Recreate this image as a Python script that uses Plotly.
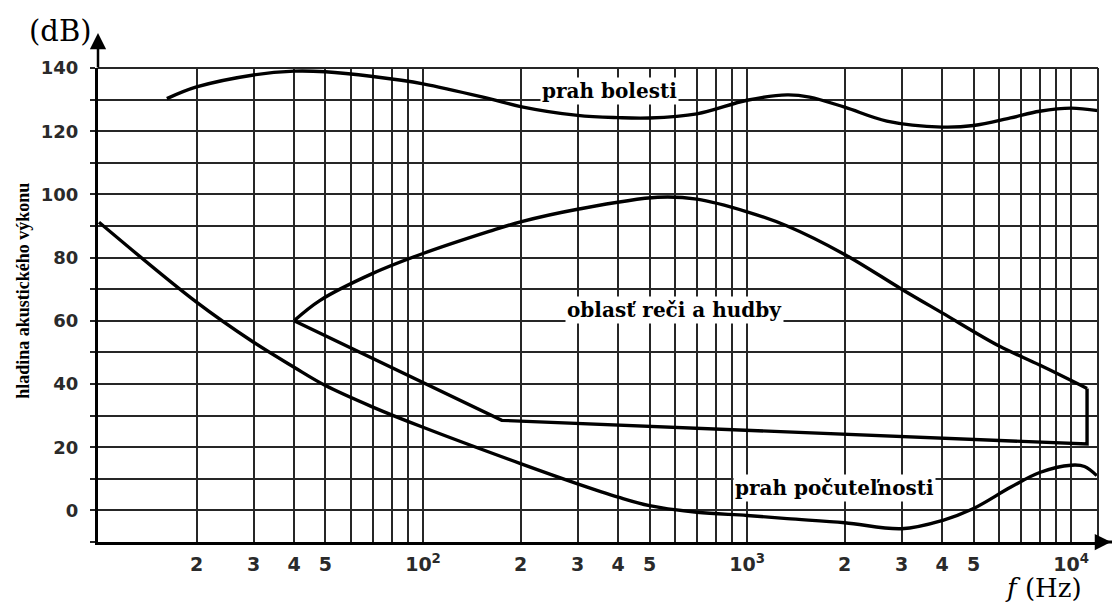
import math
import plotly.graph_objects as go

# ---------------- data ----------------
pain_f = [16.2, 20, 30, 40, 50, 70, 100, 160, 200, 300, 400, 500, 700,
          1000, 1330, 1560, 2000, 2700, 4000, 5000, 6500, 8000, 10000, 12100]
pain_db = [130.3, 134.0, 137.8, 139.0, 138.8, 137.3, 135.0, 130.3, 127.8,
           125.0, 124.3, 124.2, 125.5, 129.8, 131.5, 130.8, 127.6, 123.2,
           121.3, 121.8, 124.2, 126.3, 127.3, 126.5]

speech_top_f = [40, 48, 70, 100, 160, 200, 300, 530, 700, 1000, 1330, 2000,
                3000, 4000, 6000, 8000, 11200]
speech_top_db = [60.0, 66.4, 75.0, 81.3, 88.3, 91.3, 95.3, 99.1, 98.5, 94.5,
                 90.0, 81.0, 70.0, 62.5, 52.0, 46.0, 38.6]

speech_bottom_f = [11200, 11200, 175, 40]
speech_bottom_db = [38.6, 21.0, 28.5, 60.0]

hear_f = [10, 20, 30, 40, 50, 70, 100, 200, 300, 400, 500, 700, 1000, 1330,
          2000, 3000, 4000, 5000, 6500, 8000, 10000, 11000, 12000]
hear_db = [91.2, 65.9, 53.2, 45.3, 39.5, 32.7, 26.3, 14.8, 8.4, 4.2, 1.5,
           -0.6, -1.6, -2.6, -3.9, -5.8, -3.2, 0.6, 7.3, 12.0, 14.3, 13.9, 11.0]

# tick positions / labels
x_tick_vals = [m * 10 ** d for d in (1, 2, 3) for m in range(1, 10)] + [10000]
x_tick_text = []
for v in x_tick_vals:
    d = int(math.floor(math.log10(v) + 1e-9))
    m = round(v / 10 ** d)
    if m == 1 and d >= 2:
        x_tick_text.append("10<sup>%d</sup>" % d)
    elif m in (2, 3, 4, 5):
        x_tick_text.append(str(m))
    else:
        x_tick_text.append("")

y_tick_vals = list(range(-10, 141, 10))
y_tick_text = [str(v) if (v % 20 == 0 and v >= 0) else "" for v in y_tick_vals]

# ---------------- figure ----------------
LINE = dict(color="black", width=3.4)
fig = go.Figure()
fig.add_trace(go.Scatter(x=pain_f, y=pain_db, mode="lines",
                         line=dict(shape="spline", smoothing=1.0, **LINE),
                         hoverinfo="skip", showlegend=False))
fig.add_trace(go.Scatter(x=speech_top_f, y=speech_top_db, mode="lines",
                         line=dict(shape="spline", smoothing=1.0, **LINE),
                         hoverinfo="skip", showlegend=False))
fig.add_trace(go.Scatter(x=speech_bottom_f, y=speech_bottom_db, mode="lines",
                         line=dict(shape="linear", **LINE),
                         hoverinfo="skip", showlegend=False))
fig.add_trace(go.Scatter(x=hear_f, y=hear_db, mode="lines",
                         line=dict(shape="spline", smoothing=1.0, **LINE),
                         hoverinfo="skip", showlegend=False))

GRID = "#262626"
fig.update_xaxes(type="log", range=[0.997, 4.083],
                 tickmode="array", tickvals=x_tick_vals, ticktext=x_tick_text,
                 tickangle=0,
                 showgrid=True, gridcolor=GRID, gridwidth=1.6,
                 showline=True, linecolor="black", linewidth=3,
                 ticks="", ticklabelstandoff=3,
                 tickfont=dict(family="DejaVu Sans", size=19, color="#2a2a2a",
                               weight="bold"),
                 zeroline=False, fixedrange=True)
fig.update_yaxes(range=[-10, 140],
                 tickmode="array", tickvals=y_tick_vals, ticktext=y_tick_text,
                 tickangle=0,
                 showgrid=True, gridcolor=GRID, gridwidth=1.6,
                 showline=True, linecolor="black", linewidth=3,
                 ticks="outside", ticklen=5, tickcolor=GRID, tickwidth=1.6,
                 ticklabelstandoff=8,
                 tickfont=dict(family="DejaVu Sans", size=18, color="#2a2a2a",
                               weight="bold"),
                 zeroline=False, fixedrange=True)

# frame (top / right) and axis extension
fig.add_shape(type="line", xref="paper", yref="paper", x0=0, x1=1, y0=1, y1=1,
              line=dict(color=GRID, width=2))
fig.add_shape(type="line", xref="paper", yref="paper", x0=1, x1=1, y0=0, y1=1,
              line=dict(color=GRID, width=2))
fig.add_shape(type="line", xref="paper", yref="paper", x0=1, x1=1.03, y0=0, y1=0,
              line=dict(color="black", width=3))

LABEL_FONT = dict(family="DejaVu Serif", size=20, color="black", weight="bold")
annotations = [
    dict(x=math.log10(375), y=132.6, xref="x", yref="y", text="prah bolesti",
         showarrow=False, font=LABEL_FONT, bgcolor="white", borderpad=1),
    dict(x=math.log10(596), y=63.4, xref="x", yref="y", text="oblasť reči a hudby",
         showarrow=False, font=LABEL_FONT, bgcolor="white", borderpad=1),
    dict(x=math.log10(1860), y=7.1, xref="x", yref="y", text="prah počuteľnosti",
         showarrow=False, font=LABEL_FONT, bgcolor="white", borderpad=1),
    # y-axis arrow
    dict(x=0, y=1.074, xref="paper", yref="paper", text="", showarrow=True,
         ax=0, ay=36, axref="pixel", ayref="pixel", arrowhead=2, arrowsize=1.3,
         arrowwidth=2.5, arrowcolor="black"),
    # x-axis arrow (cut at page edge)
    dict(x=1.029, y=0, xref="paper", yref="paper", text="", showarrow=True,
         ax=-30, ay=0, axref="pixel", ayref="pixel", arrowhead=2, arrowsize=1.3,
         arrowwidth=2.5, arrowcolor="black"),
    dict(x=-0.038, y=1.078, xref="paper", yref="paper", text="(dB)",
         showarrow=False, xanchor="center", yanchor="middle",
         font=dict(family="DejaVu Serif", size=29, color="black")),
    dict(x=0.945, y=-0.098, xref="paper", yref="paper",
         text="<i>f</i> (Hz)", showarrow=False, xanchor="center", yanchor="middle",
         font=dict(family="DejaVu Serif", size=26, color="black")),
    dict(x=-0.075, y=0.53, xref="paper", yref="paper",
         text="hladina akustického výkonu", textangle=-90, showarrow=False,
         xanchor="center", yanchor="middle",
         font=dict(family="Liberation Serif", size=18, color="black", weight="bold")),
]
fig.update_layout(width=1112, height=608,
                  margin=dict(l=98, r=14, t=68, b=66),
                  paper_bgcolor="white", plot_bgcolor="white",
                  annotations=annotations, showlegend=False)

fig.write_html("out.html")
